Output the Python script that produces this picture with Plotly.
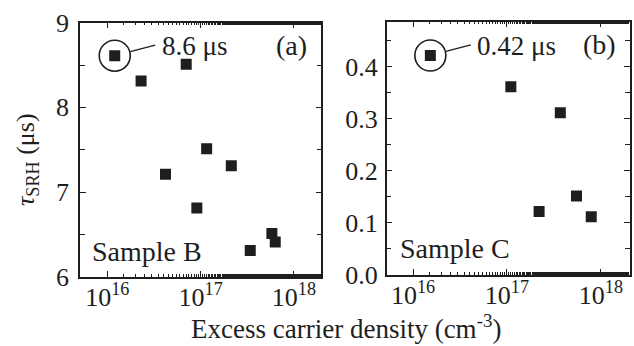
import math
import plotly.graph_objects as go

# Sample B (panel a)
density_b = [1.2e16, 2.3e16, 7.0e16, 4.2e16, 1.16e17, 2.13e17, 9.1e16, 3.4e17, 5.8e17, 6.3e17]
tau_b = [8.61, 8.31, 8.51, 7.21, 7.51, 7.31, 6.81, 6.31, 6.51, 6.41]
# Sample C (panel b)
density_c = [1.53e16, 1.1e17, 3.7e17, 2.2e17, 5.5e17, 7.9e17]
tau_c = [0.422, 0.362, 0.312, 0.122, 0.152, 0.112]

label_b = "8.6 μs"
label_c = "0.42 μs"
xtick_vals = [1e16, 1e17, 1e18]
xtick_text = ["10<sup>16</sup>", "10<sup>17</sup>", "10<sup>18</sup>"]

FONT = "Liberation Serif, Times New Roman, serif"
INK = "#1e1e1e"
W, H = 634, 346

fig = go.Figure()
for dens, tau, xa, ya in [(density_b, tau_b, "x", "y"), (density_c, tau_c, "x2", "y2")]:
    fig.add_trace(go.Scatter(x=dens, y=tau, mode="markers", xaxis=xa, yaxis=ya,
                             marker=dict(symbol="square", size=11, color=INK, line=dict(width=0)),
                             showlegend=False))
    fig.add_trace(go.Scatter(x=[dens[0]], y=[tau[0]], mode="markers", xaxis=xa, yaxis=ya,
                             marker=dict(symbol="circle-open", size=31, color=INK, line=dict(width=1.6, color=INK)),
                             showlegend=False))

axis_common = dict(showline=True, linecolor=INK, linewidth=1.5, mirror="allticks",
                   ticks="inside", ticklen=6, tickwidth=1.2, tickcolor=INK,
                   showgrid=False, zeroline=False, automargin=False,
                   tickfont=dict(family=FONT, size=26, color=INK))

xminor = dict(ticks="inside", ticklen=3, tickwidth=1, tickcolor=INK, showgrid=False)

fig.update_layout(
    width=W, height=H, margin=dict(l=0, r=0, t=0, b=0),
    paper_bgcolor="white", plot_bgcolor="white",
    font=dict(family=FONT, color=INK),
    xaxis=dict(type="log", range=[15.707, 18.293], domain=[80 / W, 321.3 / W],
               tickvals=xtick_vals, ticktext=xtick_text, minor=xminor, anchor="y", **axis_common),
    yaxis=dict(range=[6, 9], dtick=1, domain=[1 - 276.7 / H, 1 - 22.7 / H], anchor="x",
               ticklabelstandoff=4,
               minor=dict(dtick=0.5, ticks="inside", ticklen=5, tickwidth=1, tickcolor=INK, showgrid=False),
               **axis_common),
    xaxis2=dict(type="log", range=[15.72, 18.31], domain=[386.7 / W, 630 / W],
                tickvals=xtick_vals, ticktext=xtick_text, minor=xminor, anchor="y2", **axis_common),
    yaxis2=dict(range=[0, 0.487], dtick=0.1, tickformat=".1f", domain=[1 - 275 / H, 1 - 21.7 / H], anchor="x2",
                ticklabelstandoff=2,
                minor=dict(dtick=0.05, ticks="inside", ticklen=5, tickwidth=1, tickcolor=INK, showgrid=False),
                **axis_common),
)
fig.update_xaxes(ticklabelstandoff=-4)

tfont = dict(family=FONT, size=27, color=INK)
ann = []
# leader lines and value labels (annotation x on a log axis is given as log10)
for dens, tau, xa, ya, lab in [(density_b, tau_b, "x", "y", label_b), (density_c, tau_c, "x2", "y2", label_c)]:
    lx = math.log10(dens[0])
    ann.append(dict(x=lx, y=tau[0], xref=xa, yref=ya, text="", showarrow=True, arrowhead=0,
                    arrowwidth=1.3, arrowcolor=INK, ax=42, ay=-11, standoff=16))
    ann.append(dict(x=lx, y=tau[0], xref=xa, yref=ya, text=lab, showarrow=False,
                    xanchor="left", yanchor="middle", xshift=45, yshift=10, font=tfont))
# panel labels
ann.append(dict(x=1, y=0.91, xref="x domain", yref="y domain", text="(a)", showarrow=False,
                xanchor="right", yanchor="middle", xshift=-12, font=dict(family=FONT, size=28, color=INK)))
ann.append(dict(x=1, y=0.91, xref="x2 domain", yref="y2 domain", text="(b)", showarrow=False,
                xanchor="right", yanchor="middle", xshift=-12, font=dict(family=FONT, size=28, color=INK)))
ann.append(dict(x=0, y=0, xref="x domain", yref="y domain", text="Sample B", showarrow=False,
                xanchor="left", yanchor="bottom", xshift=10, yshift=8, font=dict(family=FONT, size=28, color=INK)))
ann.append(dict(x=0, y=0, xref="x2 domain", yref="y2 domain", text="Sample C", showarrow=False,
                xanchor="left", yanchor="bottom", xshift=11, yshift=9, font=dict(family=FONT, size=28, color=INK)))
# axis titles
ann.append(dict(x=346 / W, y=1 - 327 / H, xref="paper", yref="paper",
                text="Excess carrier density (cm<sup>-3</sup>)", showarrow=False,
                xanchor="center", yanchor="middle", font=dict(family=FONT, size=27, color=INK)))
ann.append(dict(x=27 / W, y=1 - 160 / H, xref="paper", yref="paper",
                text="<i>τ</i><sub>SRH</sub> (μs)", showarrow=False, textangle=-90,
                xanchor="center", yanchor="middle", font=dict(family=FONT, size=26, color=INK)))
fig.update_layout(annotations=ann)

fig.write_html("out.html")
